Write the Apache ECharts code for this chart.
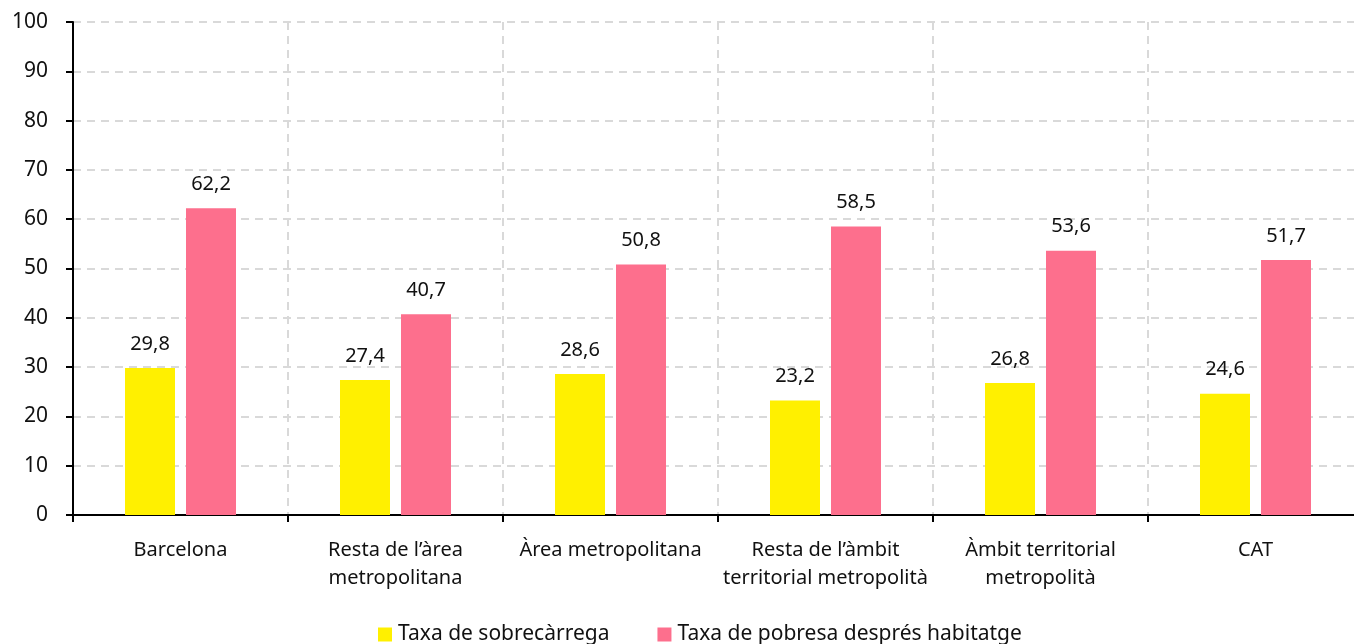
<!DOCTYPE html>
<html>
<head>
<meta charset="utf-8">
<script src="https://cdn.jsdelivr.net/npm/echarts@6/dist/echarts.min.js"></script>
<style>
  html, body { margin: 0; padding: 0; background: #fff; }
  #chart { width: 1354px; height: 644px; }
</style>
</head>
<body>
<div id="chart"></div>
<script>
const categories = [
  'Barcelona',
  'Resta de l\u2019àrea\nmetropolitana',
  'Àrea metropolitana',
  'Resta de l\u2019àmbit\nterritorial metropolità',
  'Àmbit territorial\nmetropolità',
  'CAT'
];
const sobrecarrega = [29.8, 27.4, 28.6, 23.2, 26.8, 24.6];
const pobresa = [62.2, 40.7, 50.8, 58.5, 53.6, 51.7];
const seriesNames = ['Taxa de sobrecàrrega', 'Taxa de pobresa després habitatge'];

const font = '"Noto Sans", "Open Sans", sans-serif';
const fmt = (p) => p.value.toFixed(1).replace('.', ',');

const chart = echarts.init(document.getElementById('chart'));
chart.setOption({
  animation: false,
  textStyle: { fontFamily: font },
  // plot runs a bit past the right edge in the reference, so no clamping
  grid: { left: 73, width: 1290, top: 22, height: 493, outerBoundsMode: 'none', containLabel: false },
  legend: {
    top: 619,
    left: 373,
    itemWidth: 14,
    itemHeight: 14,
    itemGap: 48,
    icon: 'rect',
    textStyle: { fontSize: 21, color: '#111', fontFamily: font, padding: [0, 0, 0, 1] },
    data: seriesNames
  },
  xAxis: {
    type: 'category',
    data: categories,
    axisLine: { lineStyle: { color: '#000', width: 2 } },
    axisTick: { show: true, interval: 0, length: 7, lineStyle: { color: '#000', width: 2 } },
    axisLabel: { interval: 0, fontSize: 20, color: '#111', margin: 21, lineHeight: 28, fontFamily: font },
    splitLine: { show: true, interval: 0, lineStyle: { color: '#d9d9d9', type: [8, 6], width: 2 } }
  },
  yAxis: {
    type: 'value',
    min: 0,
    max: 100,
    interval: 10,
    axisLine: { show: true, lineStyle: { color: '#000', width: 2 } },
    axisTick: { show: true, length: 7, lineStyle: { color: '#000', width: 2 } },
    axisLabel: { fontSize: 21, color: '#111', margin: 25, fontFamily: font },
    splitLine: { lineStyle: { color: '#d9d9d9', type: [8, 6], width: 2 } }
  },
  series: [
    {
      name: seriesNames[0],
      type: 'bar',
      data: sobrecarrega,
      barWidth: 50,
      barGap: '22%',
      itemStyle: { color: '#FFF000' },
      label: { show: true, position: 'top', distance: 14, fontSize: 20, color: '#111', formatter: fmt }
    },
    {
      name: seriesNames[1],
      type: 'bar',
      data: pobresa,
      barWidth: 50,
      itemStyle: { color: '#FD6F8D' },
      label: { show: true, position: 'top', distance: 14, fontSize: 20, color: '#111', formatter: fmt }
    }
  ]
});
</script>
</body>
</html>
